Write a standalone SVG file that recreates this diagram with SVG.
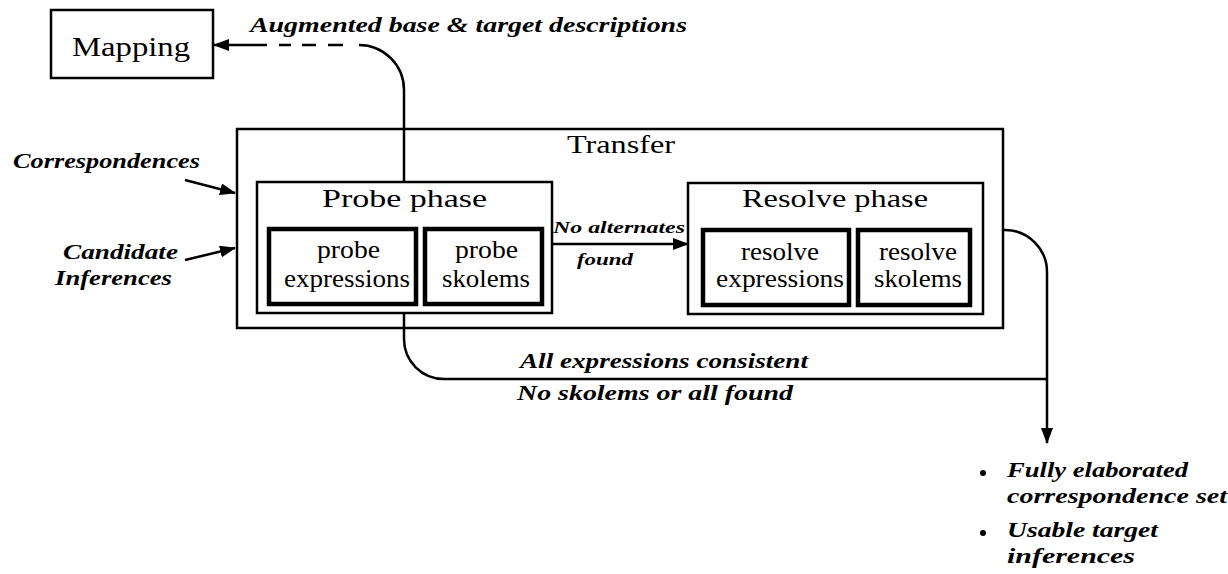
<svg xmlns="http://www.w3.org/2000/svg" width="1228" height="574" viewBox="0 0 1228 574">
<defs>
<marker id="ah" markerWidth="16" markerHeight="12" refX="15" refY="6" orient="auto" markerUnits="userSpaceOnUse">
<path d="M0,0 L16,6 L0,12 Z" fill="#000"/>
</marker>
<style>
.box{fill:#fff;stroke:#000;stroke-width:2.5}
.thick{fill:#fff;stroke:#000;stroke-width:4.5}
.rm{font-family:"Liberation Serif",serif;fill:#000}
.it{font-family:"Liberation Serif",serif;font-style:italic;font-weight:bold;fill:#000}
.ln{fill:none;stroke:#000;stroke-width:2.5}
</style>
</defs>
<rect width="1228" height="574" fill="#fff"/>

<g id="mapping">
<rect class="box" x="51" y="10" width="162" height="68"/>
<text class="rm" x="72" y="56" font-size="28" textLength="118" lengthAdjust="spacingAndGlyphs">Mapping</text>
</g>

<g id="transfer">
<rect class="box" x="237" y="129" width="766" height="199" stroke-width="3"/>
<text class="rm" x="567" y="153" font-size="25" textLength="108" lengthAdjust="spacingAndGlyphs">Transfer</text>
</g>

<g id="probe-phase">
<rect class="box" x="257" y="182" width="295" height="131"/>
<text class="rm" x="322" y="207" font-size="26" textLength="165" lengthAdjust="spacingAndGlyphs">Probe phase</text>
</g>

<g id="probe-expressions">
<rect class="thick" x="269" y="229" width="147" height="75"/>
<text class="rm" x="317" y="258" font-size="25" textLength="63" lengthAdjust="spacingAndGlyphs">probe</text>
<text class="rm" x="284" y="287" font-size="25" textLength="126" lengthAdjust="spacingAndGlyphs">expressions</text>
</g>

<g id="probe-skolems">
<rect class="thick" x="425" y="229" width="117" height="75"/>
<text class="rm" x="455" y="258" font-size="25" textLength="63" lengthAdjust="spacingAndGlyphs">probe</text>
<text class="rm" x="442" y="287" font-size="25" textLength="88" lengthAdjust="spacingAndGlyphs">skolems</text>
</g>

<g id="resolve-phase">
<rect class="box" x="688" y="183" width="295" height="131"/>
<text class="rm" x="742" y="207" font-size="26" textLength="186" lengthAdjust="spacingAndGlyphs">Resolve phase</text>
</g>

<g id="resolve-expressions">
<rect class="thick" x="703" y="230" width="146" height="75"/>
<text class="rm" x="741" y="260" font-size="25" textLength="78" lengthAdjust="spacingAndGlyphs">resolve</text>
<text class="rm" x="716" y="287" font-size="25" textLength="128" lengthAdjust="spacingAndGlyphs">expressions</text>
</g>

<g id="resolve-skolems">
<rect class="thick" x="858" y="230" width="112" height="75"/>
<text class="rm" x="879" y="260" font-size="25" textLength="78" lengthAdjust="spacingAndGlyphs">resolve</text>
<text class="rm" x="874" y="287" font-size="25" textLength="88" lengthAdjust="spacingAndGlyphs">skolems</text>
</g>

<g id="inputs">
<text class="it" x="13" y="168" font-size="22" textLength="187" lengthAdjust="spacingAndGlyphs">Correspondences</text>
<text class="it" x="63" y="259" font-size="22" textLength="115" lengthAdjust="spacingAndGlyphs">Candidate</text>
<text class="it" x="55" y="285" font-size="22" textLength="117" lengthAdjust="spacingAndGlyphs">Inferences</text>
</g>

<g id="outputs">
<circle cx="983" cy="473" r="3"/>
<text class="it" x="1007" y="477" font-size="22" textLength="181" lengthAdjust="spacingAndGlyphs">Fully elaborated</text>
<text class="it" x="1007" y="503" font-size="22" textLength="220" lengthAdjust="spacingAndGlyphs">correspondence set</text>
<circle cx="983" cy="533" r="3"/>
<text class="it" x="1007" y="537" font-size="22" textLength="151" lengthAdjust="spacingAndGlyphs">Usable target</text>
<text class="it" x="1007" y="563" font-size="22" textLength="128" lengthAdjust="spacingAndGlyphs">inferences</text>
</g>

<g id="connectors">
<path class="ln" d="M404,182 L404,90 A45,45 0 0 0 359,45"/>
<path class="ln" d="M279,45 L291,45 M302,45 L316,45 M328,45 L343,45"/>
<path class="ln" d="M267,45 L214,45" marker-end="url(#ah)"/>
<path class="ln" d="M185,180 L235,193" marker-end="url(#ah)"/>
<path class="ln" d="M185,260 L235,248" marker-end="url(#ah)"/>
<path class="ln" d="M552,244 L688,244" marker-end="url(#ah)"/>
<path class="ln" d="M404,313 L404,339 A40,40 0 0 0 444,379 L1047,379"/>
<path class="ln" d="M1003,230 L1005,230 A42,42 0 0 1 1047,272 L1047,443" marker-end="url(#ah)"/>
<text class="it" x="250" y="32" font-size="22" textLength="437" lengthAdjust="spacingAndGlyphs">Augmented base &amp; target descriptions</text>
<text class="it" x="553" y="233" font-size="17" textLength="132" lengthAdjust="spacingAndGlyphs">No alternates</text>
<text class="it" x="577" y="265" font-size="17" textLength="56" lengthAdjust="spacingAndGlyphs">found</text>
<text class="it" x="520" y="368" font-size="22" textLength="288" lengthAdjust="spacingAndGlyphs">All expressions consistent</text>
<text class="it" x="517" y="400" font-size="22" textLength="276" lengthAdjust="spacingAndGlyphs">No skolems or all found</text>
</g>
</svg>
